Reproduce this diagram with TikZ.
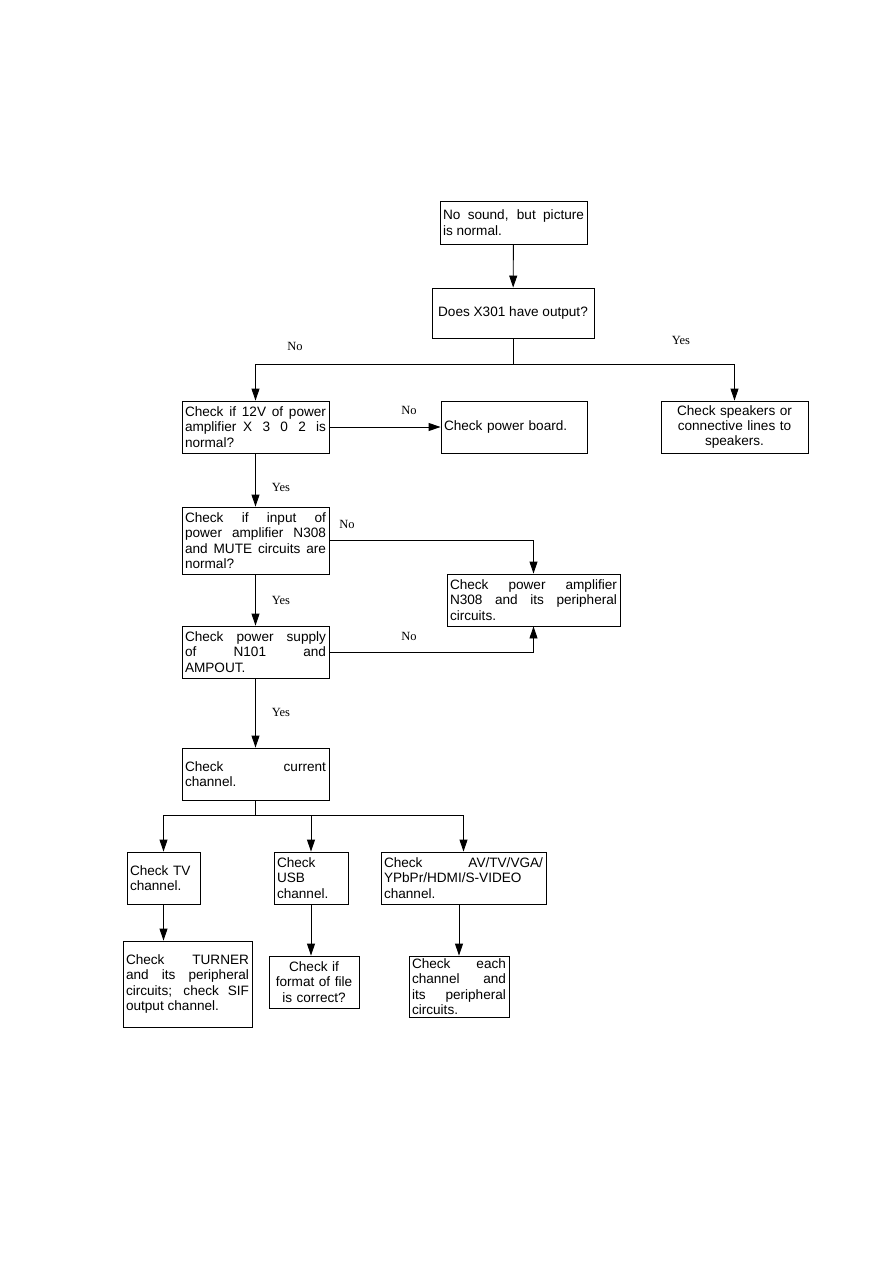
\documentclass[tikz,border=0pt]{standalone}
\usepackage{fontspec}
\setmainfont{Liberation Sans}
\newfontfamily\yesnofont{Liberation Serif}
\usetikzlibrary{arrows.meta}

\tikzset{
  box/.style={draw, line width=0.9pt, inner xsep=3pt, inner ysep=2pt,
    font=\fontsize{13.6}{15.4}\selectfont, align=justify,
    execute at begin node={\hyphenpenalty=10000\exhyphenpenalty=10000}},
  lbl/.style={font=\yesnofont\fontsize{12.5}{14}\selectfont},
  link/.style={line width=0.9pt, -{Triangle[length=12pt, width=8pt]}}
}

\begin{document}
\begin{tikzpicture}[x=1pt, y=-1pt]
%% page frame, pixel grid of the scan
\useasboundingbox (0,0) rectangle (893,1263);

%% ---- Top ----
\node[box, minimum width=147pt, minimum height=43pt, text width=141pt] (start) at (513.5,222.5)
  {No sound, but picture\linebreak is normal.};
\node[box, minimum width=162pt, minimum height=50pt, align=center] (outq) at (513,313)
  {Does X301 have output?};

%% ---- Row 1 ----
\node[box, minimum width=147pt, minimum height=52pt, text width=141pt] (volt) at (255.5,427)
  {Check if 12V of power\linebreak amplifier\enspace X 3 0 2 is\linebreak normal?};
\node[box, minimum width=146pt, minimum height=52pt, text width=140pt, align=left] (board) at (514,427)
  {Check power board.};
\node[box, minimum width=147pt, minimum height=52pt, text width=141pt, align=center] (spk) at (734.5,427)
  {Check speakers or\\connective lines to\\speakers.};

%% ---- Left column ----
\node[box, minimum width=147pt, minimum height=67pt, text width=141pt] (inp) at (255.5,540.5)
  {Check if input of\linebreak power amplifier N308\linebreak and MUTE circuits are\linebreak normal?};
\node[box, minimum width=173pt, minimum height=52pt, text width=167pt] (amp) at (533.5,600)
  {Check power amplifier\linebreak N308 and its peripheral\linebreak circuits.};
\node[box, minimum width=147pt, minimum height=52pt, text width=141pt] (supply) at (255.5,652)
  {Check power supply\linebreak of N101 and\linebreak AMPOUT.};
\node[box, minimum width=147pt, minimum height=52pt, text width=141pt] (chan) at (255.5,774)
  {Check current\linebreak channel.};

%% ---- Channels ----
\node[box, minimum width=73pt, minimum height=52pt, text width=67pt, align=left] (tv) at (163.5,878)
  {Check TV\\channel.};
\node[box, minimum width=74pt, minimum height=52pt, text width=68pt, align=left] (usb) at (311,878)
  {Check\\USB\\channel.};
\node[box, minimum width=165pt, minimum height=52pt, text width=159pt] (av) at (463.5,878)
  {Check AV/TV/VGA/\linebreak YPbPr/HDMI/S-VIDEO\\channel.};

%% ---- Bottom ----
\node[box, minimum width=129pt, minimum height=86pt, text width=123pt] (tuner) at (187.5,984)
  {Check TURNER\linebreak and its peripheral\linebreak circuits; check SIF\linebreak output channel.};
\node[box, minimum width=90pt, minimum height=52pt, text width=84pt, align=center] (fmt) at (314,982)
  {Check if\\format of file\\is correct?};
\node[box, minimum width=100pt, minimum height=61pt, text width=94pt] (each) at (459,986.5)
  {Check each\linebreak channel and\linebreak its peripheral\linebreak circuits.};

%% ---- Connectors ----
\coordinate (split1) at (outq.south |- 0,364);
\coordinate (split2) at (chan.south |- 0,815);

\draw[link] (start) -- (outq);
\draw[line width=0.9pt] (outq.south) -- (split1);
\draw[link] (split1) -| (volt.north);
\draw[link] (split1) -| (spk.north);
\draw[link] (volt) -- (board);
\draw[link] (volt) -- (inp);
\draw[link] (inp.east |- 0,540) -| (amp.north);
\draw[link] (inp) -- (supply);
\draw[link] (supply.east) -| (amp.south);
\draw[link] (supply) -- (chan);
\draw[line width=0.9pt] (chan.south) -- (split2);
\draw[link] (split2) -| (tv.north);
\draw[link] (split2) -| (usb.north);
\draw[link] (split2) -| (av.north);
\draw[link] (tv.south) -- (tv.south |- tuner.north);
\draw[link] (usb.south) -- (usb.south |- fmt.north);
\draw[link] (av.south -| each.north) -- (each.north);

%% ---- Yes / No ----
\node[lbl] (no1) at (295,346) {No};
\node[lbl] (yes1) at (681,340) {Yes};
\node[lbl] (no2) at (409,410) {No};
\node[lbl] (yes2) at (281,487) {Yes};
\node[lbl] (no3) at (347,524) {No};
\node[lbl] (yes3) at (281,600) {Yes};
\node[lbl] (no4) at (409,636) {No};
\node[lbl] (yes4) at (281,712) {Yes};
\end{tikzpicture}
\end{document}
